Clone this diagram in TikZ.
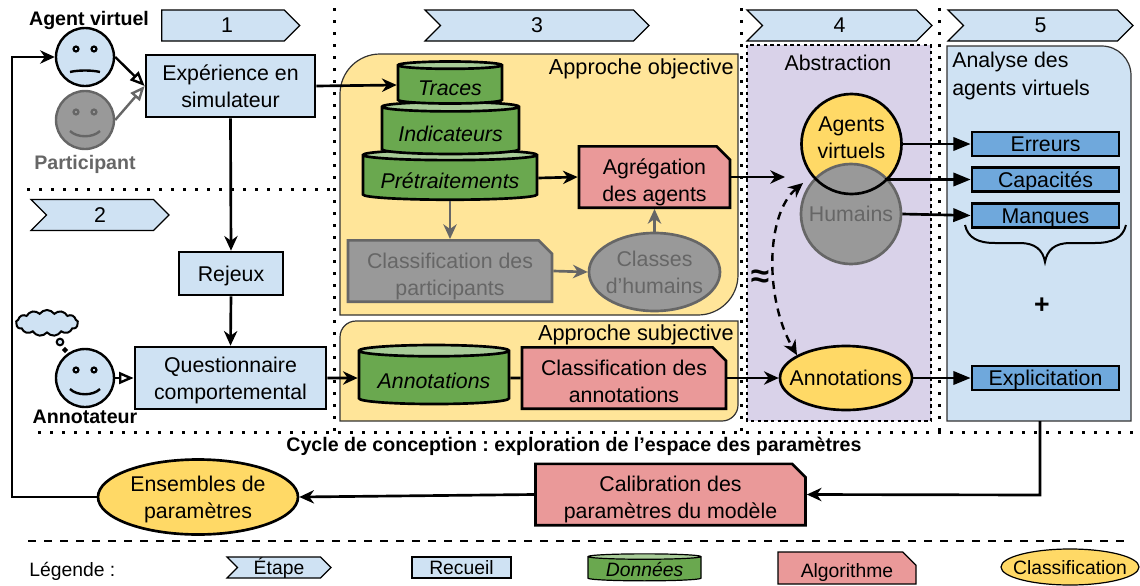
\documentclass[tikz,border=0pt]{standalone}
\usepackage{fontspec}
\setmainfont{Liberation Sans}
\frenchspacing
\usetikzlibrary{arrows.meta, shapes.geometric, shapes.symbols, shapes.misc}

\definecolor{stepblue}{HTML}{CFE2F3}
\definecolor{datagreen}{HTML}{6AA84F}
\definecolor{datatop}{HTML}{A8CC98}
\definecolor{algored}{HTML}{EA9999}
\definecolor{classyellow}{HTML}{FFD966}
\definecolor{zoneyellow}{HTML}{FFE599}
\definecolor{zonepurple}{HTML}{D9D2E9}
\definecolor{tagblue}{HTML}{6FA8DC}
\definecolor{greyfill}{HTML}{999999}
\definecolor{greyline}{HTML}{666666}

\tikzset{
px size/.style 2 args={minimum width=#1*0.75pt, minimum height=#2*0.75pt},
every node/.style={inner sep=0 pt, align=center, font=\fontsize{16}{20.2}\selectfont},
small text/.style={font=\fontsize{14.5}{18}\selectfont},
bold text/.style={font=\fontsize{14.7}{18}\selectfont\bfseries},
zonelabel/.style={anchor=east, font=\fontsize{16.3}{20}\selectfont, text depth=0 pt},
oneline/.style={text height=11.5 pt, text depth=0 pt},
smalloneline/.style={text height=10.5 pt, text depth=0 pt},
stepbox/.style={signal, signal to=east, signal from=west, signal pointer angle=90,
  draw=black, fill=stepblue, line width=0.9 pt},
recbox/.style={rectangle, draw=black, fill=stepblue, line width=2 pt},
tagbox/.style={rectangle, draw=black, fill=tagblue, line width=2 pt, oneline},
databox/.style={cylinder, shape border rotate=90, draw=black, line width=2 pt,
  cylinder uses custom fill, cylinder body fill=datagreen, cylinder end fill=datatop,
  text height=16 pt, text depth=0 pt,
  font=\fontsize{16}{20}\selectfont\itshape},
algobox/.style={chamfered rectangle, chamfered rectangle corners=north east,
  chamfered rectangle sep=5 pt, draw=black, fill=algored, line width=2 pt,
  text height=36 pt, text depth=0 pt},
classnode/.style={ellipse, draw=black, fill=classyellow, line width=2 pt,
  inner xsep=-30 pt, inner ysep=-30 pt},
facenode/.style={circle, draw=black, fill=stepblue, line width=1.8 pt, minimum size=43.5 pt},
greyed/.style={draw=greyline, fill=greyfill, text=greyline},
flowarrow/.style={line width=2 pt, -{Stealth[length=11pt, width=10pt, inset=3.5pt]}},
blockarrow/.style={line width=2 pt, -{Triangle[length=13pt, width=10pt]}},
openarrow/.style={line width=1.8 pt, -{Triangle[open, length=11pt, width=9pt]}},
sepline/.style={line width=2.25 pt, dash pattern=on 2.25 pt off 6.75 pt},
facesad/.pic={
\draw[line width=1.6 pt, fill=stepblue] (-9,-8) circle [radius=2.5] (9,-8) circle [radius=2.5];
\draw[line width=1.8 pt] (-15,15) .. controls (-7,13) and (7,13) .. (15,15);
},
facehappy/.pic={
\draw[#1, line width=1.6 pt] (-9,-8) circle [radius=2.5] (9,-8) circle [radius=2.5];
\draw[#1, line width=1.8 pt] (-15,11) .. controls (-8,18) and (8,18) .. (15,11);
},
}

\begin{document}
\begin{tikzpicture}[x=0.75 pt, y=-0.75 pt]
\useasboundingbox (0,0) rectangle (1140,586);

% zones
\draw[fill=zoneyellow, draw=black!80, line width=0.9 pt]
(340,315) [rounded corners=30 pt] -- (340,54) [sharp corners] -- (738,54)
[rounded corners=30 pt] -- (738,315) [sharp corners] -- cycle;
\draw[fill=zoneyellow, draw=black!80, line width=0.9 pt]
(340,421) [rounded corners=12 pt] -- (340,321) [sharp corners] -- (738,321)
[rounded corners=12 pt] -- (738,421) [sharp corners] -- cycle;
\draw[fill=zonepurple, draw=black, line width=0.9 pt, dash pattern=on 2.5 pt off 2.5 pt] (747,45) rectangle (931,421);
\draw[fill=stepblue, draw=black!80, line width=0.9 pt]
(947,421) -- (947,46) [rounded corners=22 pt] -- (1131,46) [sharp corners] -- (1131,421) -- cycle;

% separators
\draw[sepline]
(334,8) -- (334,432)
(741,8) -- (741,432)
(939,8) -- (939,432)
(27,189) -- (334,189)
(38,432) -- (1140,432)
;
\draw[line width=0.9 pt, dash pattern=on 6 pt off 6 pt] (28,541) -- (1125,541);

% steps
\node[stepbox, signal from=nowhere, px size={138}{31}] at (223,25.5) (step1) {\hspace{6 pt}1};
\node[stepbox, px size={138}{31}] at (100,215) (step2) {2};
\node[stepbox, px size={224}{31}] at (537,25.5) (step3) {3};
\node[stepbox, px size={185}{31}] at (839.5,25.5) (step4) {4};
\node[stepbox, px size={185}{31}] at (1040.5,25.5) (step5) {5};

% agents
\node[facenode] at (85,57) (agent) {};
\node[facenode, greyed] at (85,120) (participant) {};
\node[facenode] at (85,378) (annotateur) {};
\pic at (agent) {facesad};
\pic at (participant) {facehappy=greyline};
\pic at (annotateur) {facehappy=black};
\node[bold text] at (89,20) (agentlabel) {Agent virtuel};
\node[bold text, text=greyline] at (85,164) (participantlabel) {Participant};
\node[bold text] at (85,417) (annotateurlabel) {Annotateur};

\node[cloud, cloud puffs=13, cloud puff arc=110, aspect=2.2, draw=black, fill=stepblue,
line width=1.5 pt, px size={62}{26}] at (47,323) (thought) {};
\node[circle, draw=black, fill=stepblue, line width=1.5 pt, minimum size=5 pt] at (60,342) (bubblea) {};
\node[circle, draw=black, fill=stepblue, line width=1.5 pt, minimum size=2.5 pt] at (65,350) (bubbleb) {};

% collecting
\node[recbox, px size={169}{62}] at (230.5,86) (experience) {Expérience en\\simulateur};
\node[recbox, oneline, px size={104}{43}] at (231,273.5) (rejeux) {Rejeux};
\node[recbox, text depth=0 pt, px size={191}{62}] at (230.5,378) (questionnaire) {Questionnaire\\comportemental};

% approche objective
\node[zonelabel] at (734,67) (objlabel) {Approche objective};
\node[databox, aspect=0.075, px size={174}{50}] at (450,178) (pretraitements) {Prétraitements};
\node[databox, aspect=0.09, px size={137}{52}] at (450.5,131) (indicateurs) {Indicateurs};
\node[databox, aspect=0.115, px size={104}{42}] at (450,85) (traces) {Traces};
\node[algobox, px size={151}{56}] at (654.5,177) (agregation) {Agrégation\\des agents};
\node[algobox, greyed, px size={204}{54}] at (450,271) (classifparticipants) {Classification des\\participants};
\node[classnode, greyed, px size={131}{78}] at (654.5,272) (classeshumains) {Classes\\d’humains};

% approche subjective
\node[zonelabel] at (734,333) (subjlabel) {Approche subjective};
\node[databox, aspect=0.1, px size={150}{59}] at (434,378) (annotdata) {Annotations};
\node[algobox, px size={204}{56}] at (624,378) (classifannot) {Classification des\\annotations};

% abstraction
\node at (838,63) (abstractionlabel) {Abstraction};
\node[circle, fill=classyellow, minimum size=75 pt] at (851.5,144) (agents) {};
\node[circle, greyed, line width=2 pt, minimum size=75 pt] at (851,214) (humains) {Humains};
\node[circle, draw=black, line width=2 pt, minimum size=75 pt] at (851.5,144) (agentsring) {};
\node at (851.5,138) (agentslabel) {Agents\\virtuels};
\node[classnode, oneline, px size={132}{64}] at (846,378) (annotations) {Annotations};
\node[font=\fontsize{25}{25}\selectfont\bfseries] at (760,279) (approxsign) {≈};
\coordinate (agregationend) at (785,177);
\coordinate (approxtop) at (803,183);

% analyse
\node[anchor=west] at (952,76) (analyselabel) {\begin{tabular}{@{}l@{}}Analyse des\\[0.5 pt]agents virtuels\end{tabular}};
\node[tagbox, px size={147}{24}] at (1045.5,144) (erreurs) {Erreurs};
\node[tagbox, px size={147}{24}] at (1045.5,179.5) (capacites) {Capacités};
\node[tagbox, px size={147}{24}] at (1045.5,215.5) (manques) {Manques};
\node[tagbox, px size={147}{24}] at (1045.5,378) (explicitation) {Explicitation};
\coordinate (capacitesstart) at (885,179.5);
\node[font=\fontsize{20}{20}\selectfont\bfseries] at (1042,306) (plus) {+};
\draw[line width=1.5 pt]
(965,225) .. controls (968,238) and (978,243) .. (995,243) -- (1020,243)
.. controls (1035,243) and (1043,250) .. (1045,262)
.. controls (1047,250) and (1055,243) .. (1070,243) -- (1095,243)
.. controls (1112,243) and (1123,238) .. (1126,225);

% cycle
\node[bold text] at (574,446) (cyclelabel) {Cycle de conception : exploration de l’espace des paramètres};
\node[algobox, px size={270}{55}] at (670.5,494.5) (calibration) {Calibration des\\paramètres du modèle};
\node[classnode, text depth=-2 pt, px size={200}{75}] at (198,497) (ensembles) {Ensembles de\\paramètres};

% legend
\node[small text, anchor=west, text depth=0 pt] at (29,569) (legendlabel) {Légende :};
\node[stepbox, small text, smalloneline, px size={104}{21}] at (279,567.5) (legendstep) {Étape};
\node[recbox, small text, smalloneline, line width=0.9 pt, px size={99}{21}] at (461.5,567.5) (legendrec) {Recueil};
\node[databox, line width=0.9 pt, font=\fontsize{14.5}{18}\selectfont\itshape, text height=11 pt, aspect=0.07, px size={113}{27}] at (644.5,569) (legenddata) {Données};
\node[algobox, small text, line width=0.9 pt, text height=14 pt, px size={138}{29}] at (847,568) (legendalgo) {Algorithme};
\node[classnode, small text, smalloneline, line width=0.9 pt, px size={138}{36}] at (1070,567) (legendclass) {Classification};

% connectors
\draw[flowarrow] (ensembles.west) -- (12,497) -- (12,57) -- (agent.west);
\draw[openarrow, greyline] (participant.east) -- (experience.west);
\draw[openarrow] (agent.east) -- (experience.west);
\draw[openarrow] (annotateur.east) -- (questionnaire.west);
\draw[flowarrow] (experience.south) -- (rejeux.north);
\draw[flowarrow] (rejeux.south) -- (questionnaire.north);
\draw[flowarrow] (experience.east) -- (traces.west);
\draw[flowarrow] (questionnaire.east) -- (annotdata.west);
\draw[flowarrow] (pretraitements.east) -- (agregation.west);
\draw[flowarrow, greyline] (pretraitements.south) -- (classifparticipants.north);
\draw[flowarrow, greyline] (classifparticipants.east) -- (classeshumains.west);
\draw[flowarrow, greyline] (classeshumains.north) -- (agregation.south);
\draw[flowarrow] (agregation.east) -- (agregationend);
\draw[line width=2 pt] (annotdata.east) -- (classifannot.west);
\draw[flowarrow] (classifannot.east) -- (annotations.west);
\draw[line width=1.8 pt, dash pattern=on 6 pt off 4.5 pt, {Stealth[length=11pt, width=10pt, inset=3.5pt]}-{Stealth[length=11pt, width=10pt, inset=3.5pt]}]
(approxtop) .. controls (765,215) and (765,300) .. (annotations.155);
\draw[blockarrow] (agentsring.east) -- (erreurs.west);
\draw[blockarrow] (capacitesstart) -- (capacites.west);
\draw[blockarrow] (humains.east) -- (manques.west);
\draw[blockarrow] (annotations.east) -- (explicitation.west);
\draw[flowarrow] (1040,421) -- (1040,495) -- (calibration.east);
\draw[flowarrow] (calibration.west) -- (ensembles.east);

\end{tikzpicture}
\end{document}
